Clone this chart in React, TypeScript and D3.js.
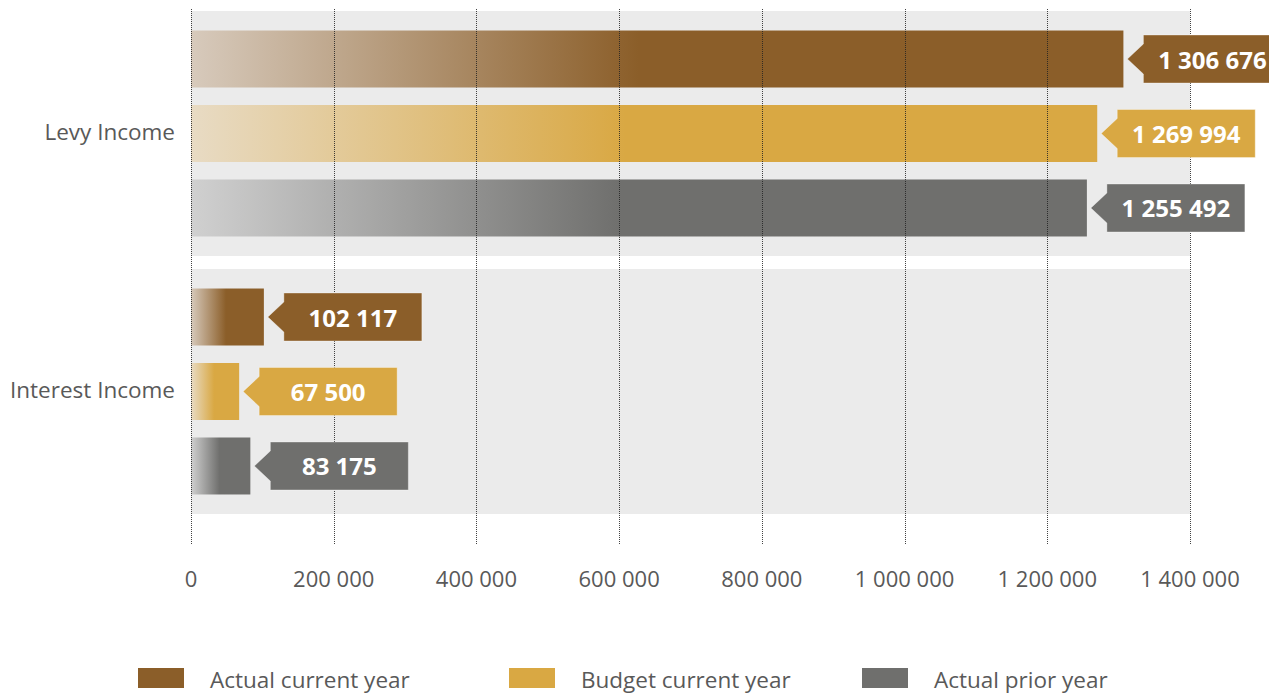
import React from "react";
import * as d3 from "d3";

const categories = ["Levy Income", "Interest Income"];
const seriesNames = ["Actual current year", "Budget current year", "Actual prior year"];
const actualCurrent = [1306676, 102117];
const budgetCurrent = [1269994, 67500];
const actualPrior = [1255492, 83175];
const tickValues = [0, 200000, 400000, 600000, 800000, 1000000, 1200000, 1400000];

const seriesColors = ["#8B5E29", "#D9A843", "#6F6F6D"];
const seriesLight = ["#D7CABC", "#E8DBC4", "#D0D0D0"];

const W = 1269;
const H = 695;
const FONT = "'Open Sans', 'Noto Sans', sans-serif";

const locale = d3.formatLocale({ thousands: " ", grouping: [3], decimal: ".", currency: ["", ""] });
const fmt = locale.format(",d");

export default function App() {
  const values = [actualCurrent, budgetCurrent, actualPrior];
  const x = d3.scaleLinear().domain([0, 1400000]).range([191, 1190]);
  const y0 = d3.scaleBand<string>().domain(categories).range([11, 514]).paddingInner(13 / 258).paddingOuter(0);
  const y1 = d3
    .scaleBand<string>()
    .domain(seriesNames)
    .range([0, y0.bandwidth()])
    .paddingInner(0.235)
    .paddingOuter(0.262);

  const boxW = 138;
  const boxH = 48;
  const arrowW = 16;
  const arrowH = 15;
  const gap = 4;

  return (
    <svg
      width={W}
      height={H}
      style={{ position: "absolute", left: 0, top: 0, background: "#fff" }}
      fontFamily={FONT}
    >
      <defs>
        {seriesNames.map((s, i) => (
          <linearGradient key={s} id={`grad${i}`} x1="0" y1="0" x2="1" y2="0">
            <stop offset="0" stopColor={seriesLight[i]} />
            <stop offset="0.48" stopColor={seriesColors[i]} />
            <stop offset="1" stopColor={seriesColors[i]} />
          </linearGradient>
        ))}
      </defs>

      {/* background bands */}
      {categories.map((c) => (
        <rect key={c} x={x(0)} y={y0(c)} width={x(1400000) - x(0)} height={y0.bandwidth()} fill="#EBEBEB" />
      ))}

      {/* category labels */}
      {categories.map((c) => (
        <text
          key={c}
          x={175}
          y={(y0(c) as number) + y0.bandwidth() / 2 - 2}
          textAnchor="end"
          dominantBaseline="central"
          fontSize={22.5}
          fill="#595959"
        >
          {c}
        </text>
      ))}

      {/* bars */}
      {categories.map((c, ci) =>
        seriesNames.map((s, si) => {
          const v = values[si][ci];
          const by = (y0(c) as number) + (y1(s) as number);
          return (
            <rect
              key={c + s}
              x={x(0)}
              y={by}
              width={x(v) - x(0)}
              height={y1.bandwidth()}
              fill={`url(#grad${si})`}
            />
          );
        })
      )}

      {/* gridlines */}
      {tickValues.map((t) => (
        <line
          key={"g" + t}
          x1={Math.round(x(t)) + 0.5}
          x2={Math.round(x(t)) + 0.5}
          y1={9}
          y2={545}
          stroke="#222"
          strokeOpacity={0.85}
          strokeDasharray="1 1"
          strokeWidth={1}
        />
      ))}

      {/* callout labels */}
      {categories.map((c, ci) =>
        seriesNames.map((s, si) => {
          const v = values[si][ci];
          const cy = (y0(c) as number) + (y1(s) as number) + y1.bandwidth() / 2;
          const tip = x(v) + gap;
          const bx = tip + arrowW;
          const path = `M${tip},${cy} L${bx},${cy - arrowH} L${bx},${cy - boxH / 2} L${bx + boxW},${cy - boxH / 2} L${bx + boxW},${cy + boxH / 2} L${bx},${cy + boxH / 2} L${bx},${cy + arrowH} Z`;
          return (
            <g key={"l" + c + s}>
              <path d={path} fill={seriesColors[si]} stroke="rgba(255,255,255,0.35)" strokeWidth={1} />
              <text
                x={bx + boxW / 2}
                y={cy}
                textAnchor="middle"
                dominantBaseline="central"
                fontSize={24}
                fontWeight="bold"
                fill="#fff"
              >
                {fmt(v)}
              </text>
            </g>
          );
        })
      )}

      {/* tick labels */}
      {tickValues.map((t) => (
        <text
          key={"t" + t}
          x={x(t)}
          y={578}
          textAnchor="middle"
          dominantBaseline="central"
          fontSize={22}
          fill="#595959"
        >
          {fmt(t)}
        </text>
      ))}

      {/* legend */}
      {seriesNames.map((s, i) => {
        const lx = [138, 509, 862][i];
        return (
          <g key={"lg" + s}>
            <rect x={lx} y={668} width={46} height={20} fill={seriesColors[i]} />
            <text x={lx + 72} y={679} dominantBaseline="central" fontSize={22.5} fill="#595959">
              {s}
            </text>
          </g>
        );
      })}
    </svg>
  );
}
